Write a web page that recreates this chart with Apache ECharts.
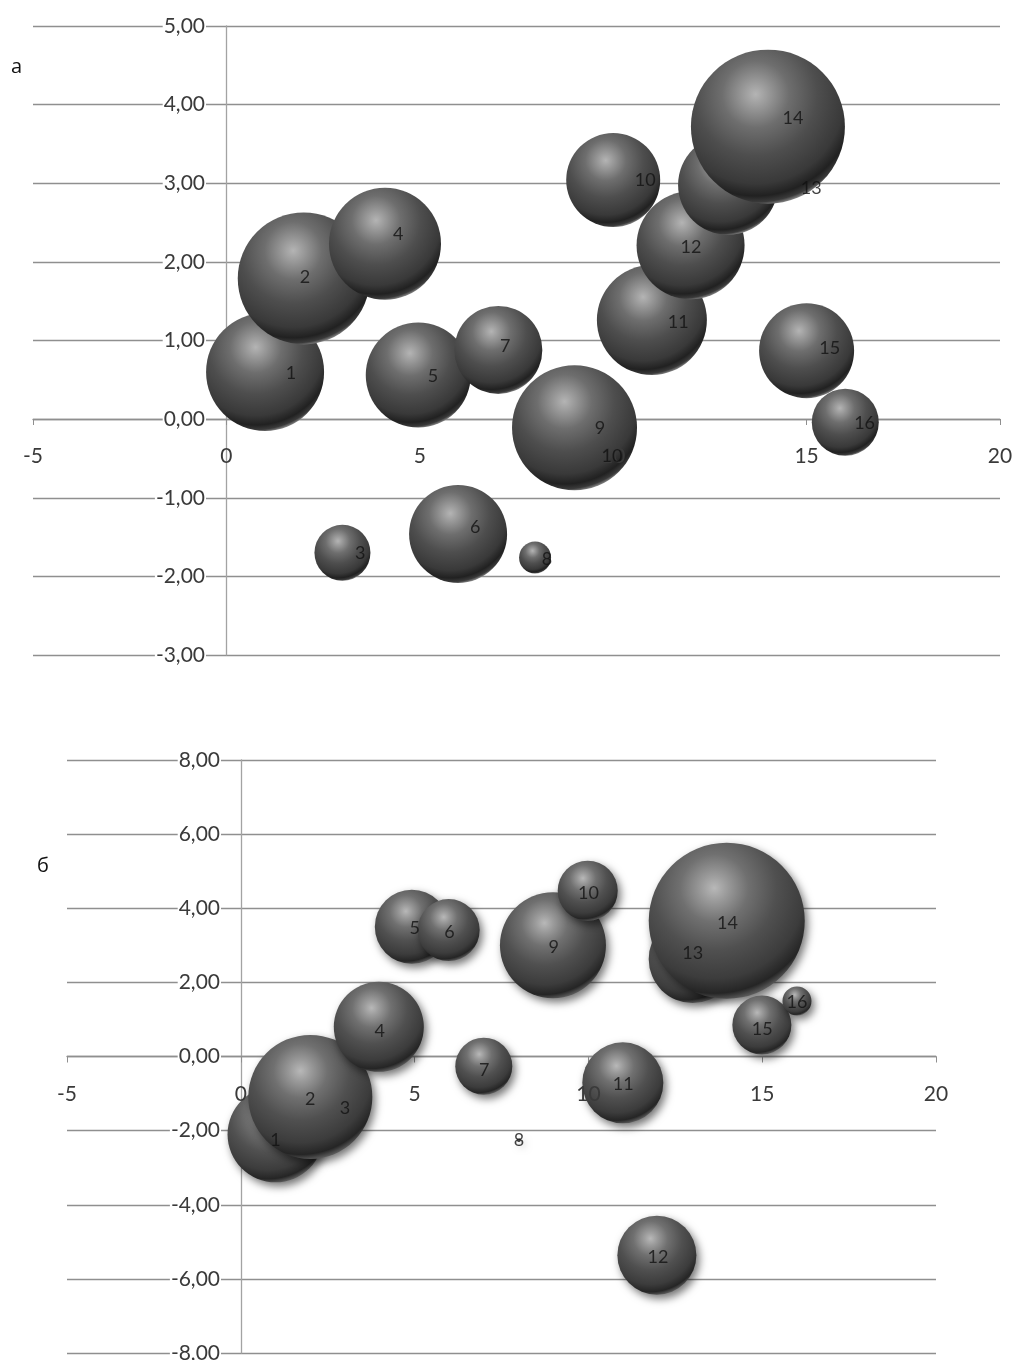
<!DOCTYPE html>
<html><head><meta charset="utf-8">
<style>html,body{margin:0;padding:0;background:#fff}#c{width:1015px;height:1360px}</style>
<script src="https://cdn.jsdelivr.net/npm/echarts@6/dist/echarts.min.js"></script>
</head><body><div id="c"></div>
<script>
// Panel а
const aX = [1, 2, 3, 4.1, 4.96, 5.99, 7.03, 7.98, 9, 10, 11, 12, 12.97, 14, 15, 16];
const aY = [0.6, 1.79, -1.7, 2.23, 0.56, -1.46, 0.88, -1.76, -0.11, 3.04, 1.26, 2.21, 2.98, 3.72, 0.87, -0.04];
const aBubble = [118, 132, 56, 112, 105, 98, 88, 32, 125, 94, 110, 108, 100, 154, 95, 67];
const aLabelText = ['1','2','3','4','5','6','7','8','9','10','10','11','12','13','14','15','16'];
const aLabelX = [1.67, 2.03, 3.46, 4.44, 5.34, 6.43, 7.21, 8.29, 9.66, 9.97, 10.83, 11.68, 12.01, 15.12, 14.65, 15.6, 16.5];
const aLabelY = [0.585, 1.81, -1.7, 2.35, 0.55, -1.37, 0.93, -1.78, -0.11, -0.47, 3.04, 1.23, 2.19, 2.94, 3.83, 0.9, -0.05];
// Panel б
const bX = [1, 3, 2, 3.97, 4.92, 5.98, 6.99, 8, 8.98, 9.98, 10.99, 11.97, 13, 13.98, 14.99, 16];
const bY = [-2.1, -1.3, -1.09, 0.8, 3.5, 3.41, -0.26, -2.25, 3, 4.47, -0.71, -5.36, 2.63, 3.66, 0.85, 1.5];
const bBubble = [96, 0, 124, 90, 74, 62, 57, 4, 106, 60, 81, 79, 88, 156, 59, 29];
const bLabelText = ['1','2','3','4','5','6','7','8','9','10','11','12','13','14','15','16'];
const bLabelX = [1, 2, 3, 4, 5, 6, 7, 8, 9, 10, 11, 12, 13, 14, 15, 16];
const bLabelY = [-2.26, -1.15, -1.39, 0.69, 3.47, 3.36, -0.36, -2.25, 2.95, 4.41, -0.74, -5.42, 2.79, 3.59, 0.74, 1.47];

const FONT = 'Lato, "Open Sans", sans-serif';
const AXIS_FONT_SIZE = 21;
const GRID_COLOR = '#8f8f8f';
const zip3 = (x, y, s) => x.map((v, i) => [v, y[i], s[i]]);

const sphere = (stops) => ({
  type: 'radial', x: 0.42, y: 0.29, r: 0.725,
  colorStops: stops.map(([offset, color]) => ({ offset, color }))
});
const sphereA = sphere([[0,'#b4b4b4'],[0.12,'#989898'],[0.3,'#6e6e6e'],[0.55,'#4e4e4e'],[0.8,'#393939'],[0.91,'#212121'],[0.965,'#3a3a3a'],[1,'#8a8a8a']]);
const sphereB = sphere([[0,'#b8b8b8'],[0.12,'#9a9a9a'],[0.3,'#707070'],[0.55,'#505050'],[0.8,'#3c3c3c'],[0.93,'#252525'],[1,'#5e5e5e']]);

// Line and ticks sit under the bubbles; the tick labels come from a twin axis above them.
const xLineOf = (gridIndex, offset) => ({
  type: 'value', gridIndex, min: -5, max: 20, interval: 5, position: 'bottom', offset, z: 0,
  axisLine: { show: true, onZero: false, lineStyle: { color: GRID_COLOR, width: 1.3 } },
  axisTick: { show: true, length: 6, lineStyle: { color: GRID_COLOR } },
  axisLabel: { show: false },
  splitLine: { show: false }
});
const xLabelsOf = (gridIndex, margin, offset) => ({
  type: 'value', gridIndex, min: -5, max: 20, interval: 5, position: 'bottom', offset, z: 4,
  axisLine: { show: false, onZero: false },
  axisTick: { show: false },
  axisLabel: { margin, fontFamily: FONT, fontSize: AXIS_FONT_SIZE, color: '#3a3a3a', showMinLabel: true, showMaxLabel: true },
  splitLine: { show: false }
});
const yAxisOf = (gridIndex, min, max, interval, margin, offset) => ({
  type: 'value', gridIndex, min, max, interval, position: 'left', offset,
  axisLine: { show: true, onZero: false, lineStyle: { color: '#a3a3a3', width: 1.3 } },
  axisTick: { show: false },
  axisLabel: {
    margin, fontFamily: FONT, fontSize: AXIS_FONT_SIZE, color: '#3a3a3a', backgroundColor: '#fff', padding: [0, 1],
    showMinLabel: true, showMaxLabel: true,
    formatter: v => v.toFixed(2).replace('.', ',')
  },
  splitLine: { show: true, lineStyle: { color: GRID_COLOR, width: 1.3 } }
});
const bubbles = (xIdx, yIdx, data, color, shadow) => ({
  type: 'scatter', xAxisIndex: xIdx, yAxisIndex: yIdx, z: 3, silent: true, clip: false,
  symbol: 'circle', symbolSize: v => v[2], data,
  itemStyle: Object.assign({ color, opacity: 1 }, shadow)
});
const labels = (xIdx, yIdx, xs, ys, texts) => ({
  type: 'scatter', xAxisIndex: xIdx, yAxisIndex: yIdx, z: 5, silent: true, clip: false,
  symbolSize: 0, data: xs.map((v, i) => [v, ys[i], texts[i]]),
  label: { show: true, position: 'inside', formatter: p => p.value[2], fontFamily: FONT, fontSize: 18, color: '#121212' }
});

const gridA = { left: 33, right: 15, top: 26, height: 629, outerBoundsMode: 'none', containLabel: false };
const gridB = { left: 67, right: 79, top: 760, height: 593, outerBoundsMode: 'none', containLabel: false };

const chart = echarts.init(document.getElementById('c'), null, { renderer: 'canvas' });
chart.setOption({
  animation: false,
  backgroundColor: '#fff',
  title: [
    { text: 'а', left: 6, top: 52, textStyle: { fontFamily: '"Open Sans", sans-serif', fontSize: 20, fontWeight: 'normal', color: '#111' } },
    { text: 'б', left: 32, top: 851, textStyle: { fontFamily: '"Open Sans", sans-serif', fontSize: 20, fontWeight: 'normal', color: '#111' } }
  ],
  grid: [gridA, gridB],
  xAxis: [xLineOf(0, -236), xLineOf(1, -296.5), xLabelsOf(0, 27, -236), xLabelsOf(1, 27, -296.5)],
  yAxis: [yAxisOf(0, -3, 5, 1, 20, -193), yAxisOf(1, -8, 8, 2, 20, -174)],
  series: [
    bubbles(0, 0, zip3(aX, aY, aBubble), sphereA, {}),
    labels(0, 0, aLabelX, aLabelY, aLabelText),
    bubbles(1, 1, zip3(bX, bY, bBubble), sphereB, { shadowBlur: 9, shadowOffsetX: 3, shadowOffsetY: 4, shadowColor: 'rgba(0,0,0,0.55)' }),
    labels(1, 1, bLabelX, bLabelY, bLabelText)
  ]
});
</script></body></html>
